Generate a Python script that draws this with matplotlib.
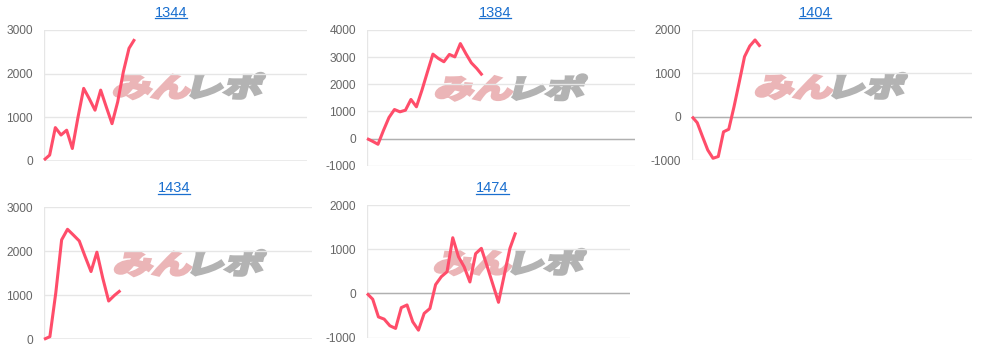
import matplotlib
matplotlib.use('Agg')
import matplotlib.pyplot as plt
from matplotlib.textpath import TextPath
from matplotlib.font_manager import FontProperties
from matplotlib.patches import PathPatch
from matplotlib.transforms import Affine2D
from matplotlib.lines import Line2D

plt.rcParams['font.family'] = ['Liberation Sans', 'DejaVu Sans']
plt.rcParams['axes.unicode_minus'] = False

# ---------------- data ----------------
titles = ["1344", "1384", "1404", "1434", "1474"]

v1344 = [15, 130, 760, 590, 700, 280, 1000, 1660, 1420, 1160, 1620, 1230, 850,
         1350, 2040, 2580, 2790]
v1384 = [0, -100, -210, 300, 775, 1070, 985, 1045, 1440, 1170, 1780, 2450, 3110,
         2950, 2830, 3100, 3010, 3500, 3130, 2790, 2580, 2330]
v1404 = [0, -140, -460, -770, -960, -920, -350, -290, 230, 800, 1385, 1630, 1770,
         1615]
v1434 = [0, 60, 1050, 2260, 2500, 2370, 2235, 1880, 1540, 1980, 1390, 870, 1000,
         1110]
v1474 = [0, -130, -530, -580, -730, -790, -320, -260, -640, -830, -450, -340, 200,
         380, 490, 1260, 830, 600, 260, 900, 1020, 620, 210, -200, 410, 1020, 1380]
series = [v1344, v1384, v1404, v1434, v1474]

y_ticks = [
    [0, 1000, 2000, 3000],
    [-1000, 0, 1000, 2000, 3000, 4000],
    [-1000, 0, 1000, 2000],
    [0, 1000, 2000, 3000],
    [-1000, 0, 1000, 2000],
]

# ---------------- layout (pixels) ----------------
W, H = 982, 348
x_span = [46.4, 48.8, 53.3, 45.6, 46.0]
# left, top, right, bottom of each plot area
boxes = [
    (44, 30, 307, 160.7),
    (367, 30, 635, 165.7),
    (692, 30, 972, 160),
    (44, 207.3, 312, 339.3),
    (367, 205, 630, 337.7),
]
title_pos = [(171, 16.7), (495, 16.7), (815, 16.7), (174, 192.3), (492.5, 192.3)]
logo_pos = [(189, 86), (511, 87.5), (831, 86), (190, 263), (510, 262)]

LINE = '#ff4d6a'
GRID = '#e6e6e6'
BASE = '#b0b0b0'
TICK = '#666666'
TITLE = '#1a6fcf'

fig = plt.figure(figsize=(W / 100, H / 100), dpi=100)
fig.patch.set_facecolor('white')

px = Affine2D().scale(1 / W, 1 / H) + fig.transFigure


def draw_logo(cx, cy):
    fp = FontProperties(family='Noto Sans CJK JP', weight='bold')
    p1 = TextPath((0, 0), "みん", size=100, prop=fp)
    p2 = TextPath((0, 0), "レポ", size=100, prop=fp)
    b1 = p1.get_extents()
    b2 = p2.get_extents()
    gap = 8
    shift = b1.x1 + gap - b2.x0
    p2 = p2.transformed(Affine2D().translate(shift, 0))
    b2 = p2.get_extents()
    x0, x1 = b1.x0, b2.x1
    y0, y1 = min(b1.y0, b2.y0), max(b1.y1, b2.y1)
    tw, th = 146, 25
    sx = tw / (x1 - x0)
    sy = th / (y1 - y0)
    t = (Affine2D().translate(-(x0 + x1) / 2, -(y0 + y1) / 2)
         .scale(sx, sy).skew_deg(14, 0).translate(cx, H - cy))
    for p, col in ((p1, '#ebb5b7'), (p2, '#b3b3b3')):
        patch = PathPatch(p.transformed(t), facecolor=col, edgecolor=col,
                          lw=2.4, joinstyle='miter', transform=px, zorder=-1)
        fig.add_artist(patch)


for i, vals in enumerate(series):
    l, t, r, b = boxes[i]
    ax = fig.add_axes([l / W, (H - b) / H, (r - l) / W, (b - t) / H])
    ax.set_facecolor('none')
    ticks = y_ticks[i]
    ax.set_xlim(0, x_span[i])
    ax.set_ylim(ticks[0], ticks[-1])
    ax.set_yticks(ticks)
    ax.set_yticklabels([str(v) for v in ticks])
    ax.set_xticks([])
    for s in ax.spines.values():
        s.set_visible(False)
    ax.grid(axis='y', color=GRID, lw=1)
    ax.axvline(0, color=GRID, lw=1, zorder=1.5)
    ax.axhline(0, color=BASE, lw=1, zorder=1.6)
    ax.tick_params(axis='y', length=0, pad=8, labelsize=8.6, labelcolor=TICK)
    ax.plot(range(len(vals)), vals, color=LINE, lw=2.2,
            solid_joinstyle='round', solid_capstyle='butt', zorder=3,
            clip_on=False)
    draw_logo(*logo_pos[i])

title_texts = []
for i, name in enumerate(titles):
    cx, by = title_pos[i]
    txt = fig.text(cx / W, (H - by) / H, name, ha='center', va='baseline',
                   color=TITLE, fontsize=10.5)
    title_texts.append(txt)

fig.canvas.draw()
renderer = fig.canvas.get_renderer()
for i, txt in enumerate(title_texts):
    bb = txt.get_window_extent(renderer)
    cx, by = title_pos[i]
    uy = (H - (by + 1.3)) / H
    fig.add_artist(Line2D([bb.x0 / W, bb.x1 / W], [uy, uy], color=TITLE, lw=0.9,
                          transform=fig.transFigure))

fig.savefig('out.png', dpi=100, facecolor='white')
